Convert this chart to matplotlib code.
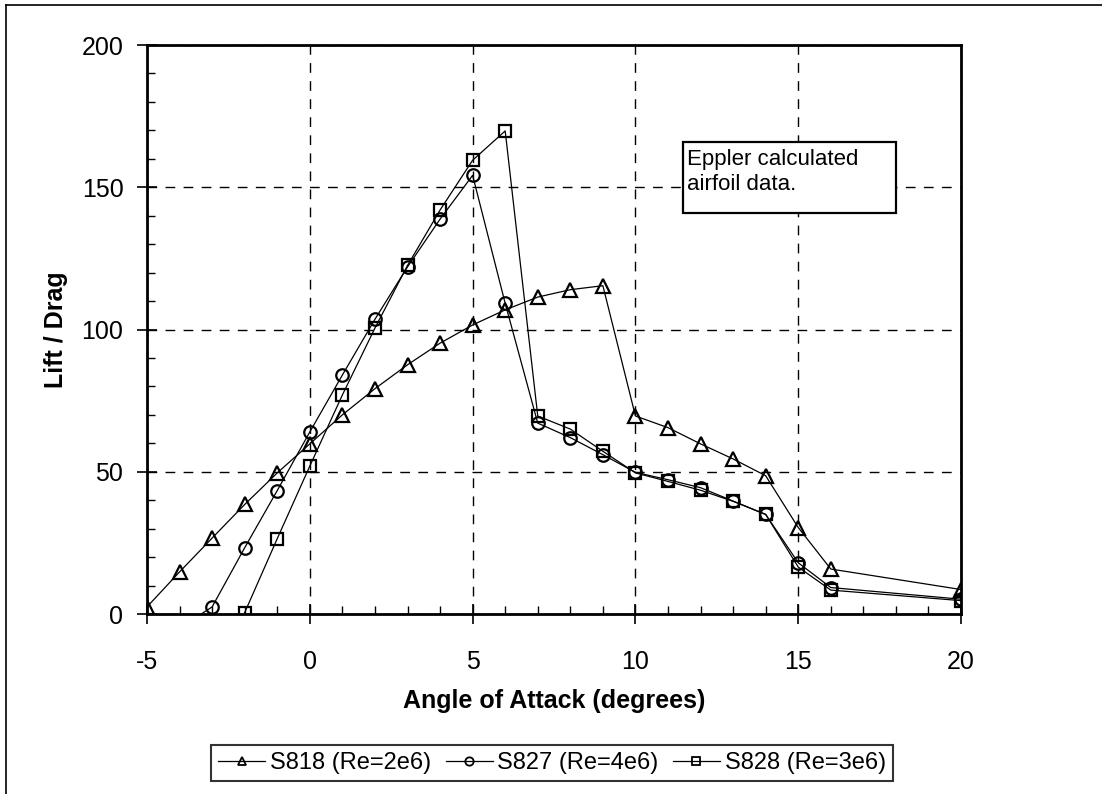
import matplotlib.pyplot as plt
from matplotlib.lines import Line2D
from matplotlib.ticker import MultipleLocator

plt.rcParams['font.family'] = ['Liberation Sans', 'DejaVu Sans']
plt.rcParams['axes.unicode_minus'] = False

# Eppler calculated airfoil data: lift/drag vs angle of attack
alpha_s818 = [-5, -4, -3, -2, -1, 0, 1, 2, 3, 4, 5, 6, 7, 8, 9, 10, 11, 12, 13, 14, 15, 16, 20]
ld_s818 = [2.5, 14.8, 26.7, 38.5, 49.6, 59.8, 70.0, 79.2, 87.6, 95.2, 101.6, 106.9, 111.4, 114.0, 115.4,
           69.6, 65.5, 59.8, 54.5, 48.6, 30.4, 15.8, 8.6]

alpha_s827 = [-4, -3, -2, -1, 0, 1, 2, 3, 4, 5, 6, 7, 8, 9, 10, 11, 12, 13, 14, 15, 16, 20]
ld_s827 = [-5.0, 2.5, 23.3, 43.4, 64.0, 84.0, 103.6, 122.0, 138.8, 154.2, 109.2, 67.1, 62.0, 56.0,
           49.8, 47.2, 44.4, 39.7, 35.0, 18.0, 9.3, 5.2]

alpha_s828 = [-2, -1, 0, 1, 2, 3, 4, 5, 6, 7, 8, 9, 10, 11, 12, 13, 14, 15, 16, 20]
ld_s828 = [0.5, 26.5, 52.0, 77.0, 100.5, 122.5, 142.0, 159.5, 169.8, 69.6, 65.0, 57.2, 49.6, 46.6,
           43.5, 39.6, 35.0, 16.5, 8.4, 4.7]

labels = ['S818 (Re=2e6)', 'S827 (Re=4e6)', 'S828 (Re=3e6)']
markers = ['^', 'o', 's']

fig = plt.figure(figsize=(11.02, 7.94), dpi=100)
ax = fig.add_axes([0.1334, 0.2267, 0.7387, 0.7166])

series = [(alpha_s818, ld_s818), (alpha_s827, ld_s827), (alpha_s828, ld_s828)]
for (x, y), lab, m in zip(series, labels, markers):
    ax.plot(x, y, color='black', lw=0.9, marker=m, markersize=10 if m == '^' else 9,
            markerfacecolor='none', markeredgecolor='black', markeredgewidth=1.6, label=lab)

ax.set_xlim(-5, 20)
ax.set_ylim(0, 200)
ax.xaxis.set_major_locator(MultipleLocator(5))
ax.xaxis.set_minor_locator(MultipleLocator(1))
ax.yaxis.set_major_locator(MultipleLocator(50))
ax.yaxis.set_minor_locator(MultipleLocator(10))
ax.tick_params(which='major', direction='inout', length=14, width=1.2, labelsize=18)
ax.tick_params(which='minor', direction='in', length=6, width=1.0)
ax.tick_params(axis='x', which='major', pad=19)
ax.tick_params(axis='y', which='major', pad=10)
ax.grid(True, which='major', color='black', linestyle=(0, (7, 6)), lw=1.0)
for s in ax.spines.values():
    s.set_linewidth(2.0)

ax.set_xlabel('Angle of Attack (degrees)', fontsize=18, fontweight='bold', labelpad=11)
ax.set_ylabel('Lift / Drag', fontsize=18, fontweight='bold', labelpad=10)

# note box
ax.add_patch(plt.Rectangle((0.658, 0.705), 0.262, 0.125, transform=ax.transAxes,
                           facecolor='white', edgecolor='black', lw=1.6, zorder=5))
ax.text(0.663, 0.818, 'Eppler calculated\nairfoil data.', transform=ax.transAxes,
        fontsize=16, va='top', ha='left', linespacing=1.3, zorder=6)

handles = [Line2D([], [], color='black', lw=0.9, marker=m, markersize=6, markerfacecolor='none',
                  markeredgecolor='black', markeredgewidth=1.3) for m in markers]
leg = fig.legend(handles, labels, loc='center', bbox_to_anchor=(0.501, 0.039), ncol=3,
                 fontsize=17, frameon=True, fancybox=False, handlelength=2.0, handletextpad=0.2,
                 columnspacing=0.6, borderpad=0.3, borderaxespad=0)
leg.get_frame().set_edgecolor('black')
leg.get_frame().set_linewidth(1.5)

# outer chart border (left/top edges)
fig.add_artist(Line2D([0.005, 0.005], [0.0, 0.994], transform=fig.transFigure, color='black', lw=1.2))
fig.add_artist(Line2D([0.005, 1.0], [0.994, 0.994], transform=fig.transFigure, color='black', lw=1.2))

fig.savefig('out.png', dpi=100)
